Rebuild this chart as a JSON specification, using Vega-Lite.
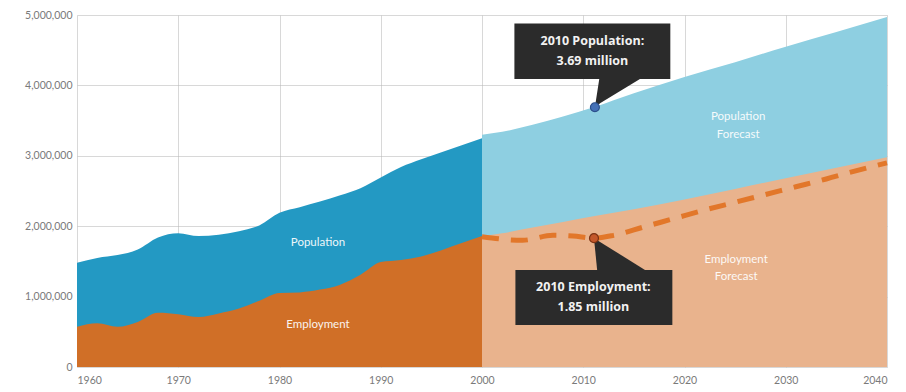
{
  "$schema": "https://vega.github.io/schema/vega-lite/v6.json",
  "width": 810,
  "height": 352,
  "autosize": {"type": "none"},
  "padding": {"left": 77, "top": 15, "right": 19, "bottom": 25},
  "background": "white",
  "config": {
    "view": {"stroke": null},
    "axis": {"labelFont": "Lato", "labelFontSize": 10.5, "labelColor": "#7a7a7a", "domain": false, "ticks": false, "gridColor": "#b8b8b8", "gridOpacity": 0.55, "gridWidth": 1, "zindex": 1}
  },
  "datasets": {
    "series": [
      {"series": "Population", "year": 1960, "value": 1480000},
      {"series": "Population", "year": 1962, "value": 1550000},
      {"series": "Population", "year": 1964, "value": 1590000},
      {"series": "Population", "year": 1966, "value": 1670000},
      {"series": "Population", "year": 1968, "value": 1840000},
      {"series": "Population", "year": 1970, "value": 1900000},
      {"series": "Population", "year": 1972, "value": 1860000},
      {"series": "Population", "year": 1974, "value": 1880000},
      {"series": "Population", "year": 1976, "value": 1930000},
      {"series": "Population", "year": 1978, "value": 2010000},
      {"series": "Population", "year": 1980, "value": 2190000},
      {"series": "Population", "year": 1982, "value": 2270000},
      {"series": "Population", "year": 1984, "value": 2350000},
      {"series": "Population", "year": 1986, "value": 2440000},
      {"series": "Population", "year": 1988, "value": 2540000},
      {"series": "Population", "year": 1990, "value": 2690000},
      {"series": "Population", "year": 1992, "value": 2840000},
      {"series": "Population", "year": 1994, "value": 2950000},
      {"series": "Population", "year": 1996, "value": 3050000},
      {"series": "Population", "year": 1998, "value": 3150000},
      {"series": "Population", "year": 2000, "value": 3250000},
      {"series": "Employment", "year": 1960, "value": 570000},
      {"series": "Employment", "year": 1962, "value": 620000},
      {"series": "Employment", "year": 1964, "value": 570000},
      {"series": "Employment", "year": 1966, "value": 640000},
      {"series": "Employment", "year": 1968, "value": 770000},
      {"series": "Employment", "year": 1970, "value": 750000},
      {"series": "Employment", "year": 1972, "value": 710000},
      {"series": "Employment", "year": 1974, "value": 760000},
      {"series": "Employment", "year": 1976, "value": 830000},
      {"series": "Employment", "year": 1978, "value": 940000},
      {"series": "Employment", "year": 1980, "value": 1050000},
      {"series": "Employment", "year": 1982, "value": 1060000},
      {"series": "Employment", "year": 1984, "value": 1100000},
      {"series": "Employment", "year": 1986, "value": 1170000},
      {"series": "Employment", "year": 1988, "value": 1310000},
      {"series": "Employment", "year": 1990, "value": 1490000},
      {"series": "Employment", "year": 1992, "value": 1520000},
      {"series": "Employment", "year": 1994, "value": 1570000},
      {"series": "Employment", "year": 1996, "value": 1660000},
      {"series": "Employment", "year": 1998, "value": 1760000},
      {"series": "Employment", "year": 2000, "value": 1860000},
      {"series": "Population Forecast", "year": 2000, "value": 3300000},
      {"series": "Population Forecast", "year": 2002, "value": 3340000},
      {"series": "Population Forecast", "year": 2005, "value": 3440000},
      {"series": "Population Forecast", "year": 2008, "value": 3560000},
      {"series": "Population Forecast", "year": 2011, "value": 3690000},
      {"series": "Population Forecast", "year": 2015, "value": 3890000},
      {"series": "Population Forecast", "year": 2020, "value": 4120000},
      {"series": "Population Forecast", "year": 2025, "value": 4330000},
      {"series": "Population Forecast", "year": 2030, "value": 4550000},
      {"series": "Population Forecast", "year": 2035, "value": 4760000},
      {"series": "Population Forecast", "year": 2040, "value": 4970000},
      {"series": "Employment Forecast", "year": 2000, "value": 1860000},
      {"series": "Employment Forecast", "year": 2002, "value": 1900000},
      {"series": "Employment Forecast", "year": 2005, "value": 1980000},
      {"series": "Employment Forecast", "year": 2008, "value": 2060000},
      {"series": "Employment Forecast", "year": 2011, "value": 2140000},
      {"series": "Employment Forecast", "year": 2015, "value": 2240000},
      {"series": "Employment Forecast", "year": 2020, "value": 2380000},
      {"series": "Employment Forecast", "year": 2025, "value": 2530000},
      {"series": "Employment Forecast", "year": 2030, "value": 2680000},
      {"series": "Employment Forecast", "year": 2035, "value": 2830000},
      {"series": "Employment Forecast", "year": 2040, "value": 2980000},
      {"series": "Employment Trend", "year": 2000, "value": 1850000},
      {"series": "Employment Trend", "year": 2004, "value": 1800000},
      {"series": "Employment Trend", "year": 2007, "value": 1870000},
      {"series": "Employment Trend", "year": 2009, "value": 1860000},
      {"series": "Employment Trend", "year": 2011, "value": 1830000},
      {"series": "Employment Trend", "year": 2013, "value": 1870000},
      {"series": "Employment Trend", "year": 2016, "value": 1990000},
      {"series": "Employment Trend", "year": 2019, "value": 2110000},
      {"series": "Employment Trend", "year": 2022, "value": 2230000},
      {"series": "Employment Trend", "year": 2025, "value": 2340000},
      {"series": "Employment Trend", "year": 2028, "value": 2450000},
      {"series": "Employment Trend", "year": 2031, "value": 2560000},
      {"series": "Employment Trend", "year": 2034, "value": 2670000},
      {"series": "Employment Trend", "year": 2037, "value": 2790000},
      {"series": "Employment Trend", "year": 2040, "value": 2900000}
    ],
    "pointers": [
      {"callout": "pop", "year": 2011.15, "value": 3690000, "bottom": 3690000},
      {"callout": "pop", "year": 2011.7, "value": 4200000, "bottom": 3750000},
      {"callout": "pop", "year": 2015.6, "value": 4200000, "bottom": 4090000},
      {"callout": "emp", "year": 2011.06, "value": 1830000, "bottom": 1830000},
      {"callout": "emp", "year": 2011.46, "value": 1795000, "bottom": 1250000},
      {"callout": "emp", "year": 2016.1, "value": 1378000, "bottom": 1250000}
    ],
    "boxes": [
      {"callout": "pop", "year": 2003.2, "year2": 2018.6, "value": 4880000, "bottom": 4090000},
      {"callout": "emp", "year": 2003.3, "year2": 2018.8, "value": 1378000, "bottom": 597000}
    ],
    "boxtext": [
      {"year": 2010.9, "value": 4630000, "text": "2010 Population:"},
      {"year": 2010.9, "value": 4350000, "text": "3.69 million"},
      {"year": 2011.0, "value": 1140000, "text": "2010 Employment:"},
      {"year": 2011.0, "value": 850000, "text": "1.85 million"}
    ],
    "dots": [
      {"callout": "pop", "year": 2011.15, "value": 3690000},
      {"callout": "emp", "year": 2011.06, "value": 1830000}
    ],
    "labels": [
      {"year": 1983.8, "value": 1760000, "text": "Population"},
      {"year": 1983.8, "value": 600000, "text": "Employment"},
      {"year": 2025.3, "value": 3550000, "text": "Population"},
      {"year": 2025.3, "value": 3290000, "text": "Forecast"},
      {"year": 2025.1, "value": 1520000, "text": "Employment"},
      {"year": 2025.1, "value": 1280000, "text": "Forecast"}
    ]
  },
  "layer": [
    {
      "data": {"name": "series"},
      "transform": [{"filter": "datum.series === 'Population'"}],
      "mark": {"type": "area", "color": "#2399c3", "interpolate": "monotone"},
      "encoding": {
        "x": {"field": "year", "type": "quantitative", "title": null,
              "scale": {"domain": [1960, 2040], "nice": false, "zero": false},
              "axis": {"values": [1960, 1970, 1980, 1990, 2000, 2010, 2020, 2030, 2040], "format": "d", "labelPadding": 8, "grid": true}},
        "y": {"field": "value", "type": "quantitative", "title": null,
              "scale": {"domain": [0, 5000000], "nice": false},
              "axis": {"values": [0, 1000000, 2000000, 3000000, 4000000, 5000000], "format": ",d", "labelPadding": 5, "grid": true}}
      }
    },
    {
      "data": {"name": "series"},
      "transform": [{"filter": "datum.series === 'Employment'"}],
      "mark": {"type": "area", "color": "#d06f27", "interpolate": "monotone"},
      "encoding": {
        "x": {"field": "year", "type": "quantitative", "title": null},
        "y": {"field": "value", "type": "quantitative", "title": null}
      }
    },
    {
      "data": {"name": "series"},
      "transform": [{"filter": "datum.series === 'Population Forecast'"}],
      "mark": {"type": "area", "color": "#8ecfe1", "interpolate": "monotone"},
      "encoding": {
        "x": {"field": "year", "type": "quantitative", "title": null},
        "y": {"field": "value", "type": "quantitative", "title": null}
      }
    },
    {
      "data": {"name": "series"},
      "transform": [{"filter": "datum.series === 'Employment Forecast'"}],
      "mark": {"type": "area", "color": "#e9b38d", "interpolate": "monotone"},
      "encoding": {
        "x": {"field": "year", "type": "quantitative", "title": null},
        "y": {"field": "value", "type": "quantitative", "title": null}
      }
    },
    {
      "data": {"name": "series"},
      "transform": [{"filter": "datum.series === 'Employment Trend'"}],
      "mark": {"type": "line", "color": "#e2772a", "strokeWidth": 5, "strokeDash": [17, 12], "interpolate": "monotone"},
      "encoding": {
        "x": {"field": "year", "type": "quantitative", "title": null},
        "y": {"field": "value", "type": "quantitative", "title": null}
      }
    },
    {
      "mark": {"type": "rule", "color": "#3c3c3c", "strokeWidth": 2},
      "encoding": {"x": {"datum": 2000, "type": "quantitative"}}
    },
    {
      "data": {"name": "pointers"},
      "mark": {"type": "area", "color": "#2b2b2b", "opacity": 1},
      "encoding": {
        "x": {"field": "year", "type": "quantitative", "title": null},
        "y": {"field": "value", "type": "quantitative", "title": null},
        "y2": {"field": "bottom"},
        "detail": {"field": "callout"}
      }
    },
    {
      "data": {"name": "boxes"},
      "mark": {"type": "rect", "color": "#2b2b2b"},
      "encoding": {
        "x": {"field": "year", "type": "quantitative", "title": null},
        "x2": {"field": "year2"},
        "y": {"field": "value", "type": "quantitative", "title": null},
        "y2": {"field": "bottom"}
      }
    },
    {
      "data": {"name": "boxtext"},
      "mark": {"type": "text", "color": "#f2f2f2", "font": "Open Sans", "fontWeight": "bold", "fontSize": 12.5, "align": "center", "baseline": "middle"},
      "encoding": {
        "x": {"field": "year", "type": "quantitative", "title": null},
        "y": {"field": "value", "type": "quantitative", "title": null},
        "text": {"field": "text"}
      }
    },
    {
      "data": {"name": "dots"},
      "mark": {"type": "point", "filled": true, "size": 80, "strokeWidth": 1.2, "opacity": 1},
      "encoding": {
        "x": {"field": "year", "type": "quantitative", "title": null},
        "y": {"field": "value", "type": "quantitative", "title": null},
        "fill": {"field": "callout", "type": "nominal", "scale": {"domain": ["pop", "emp"], "range": ["#4470b6", "#c4582b"]}, "legend": null},
        "stroke": {"field": "callout", "type": "nominal", "scale": {"domain": ["pop", "emp"], "range": ["#2c4f8a", "#7c3212"]}, "legend": null}
      }
    },
    {
      "data": {"name": "labels"},
      "mark": {"type": "text", "color": "#ffffff", "font": "Lato", "fontSize": 11.5, "align": "center", "baseline": "middle", "opacity": 0.92},
      "encoding": {
        "x": {"field": "year", "type": "quantitative", "title": null},
        "y": {"field": "value", "type": "quantitative", "title": null},
        "text": {"field": "text"}
      }
    }
  ]
}
